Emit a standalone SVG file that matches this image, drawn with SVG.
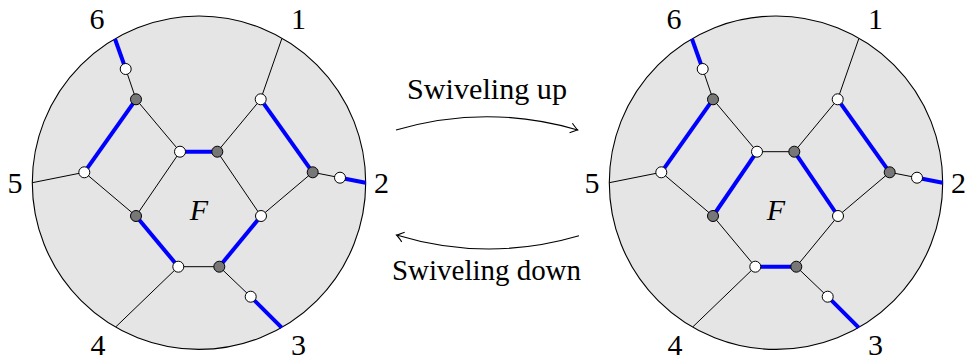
<svg xmlns="http://www.w3.org/2000/svg" width="967" height="361" viewBox="0 0 967 361">
<defs>
<style>
.disk{fill:#e5e5e5;stroke:#000;stroke-width:1.1}
.e{stroke:#000;stroke-width:1;fill:none}
.b{stroke:#0000ff;stroke-width:4;fill:none}
.w{fill:#fff;stroke:#000;stroke-width:1}
.g{fill:#777;stroke:#000;stroke-width:1}
.t{font-family:"Liberation Serif","DejaVu Serif",serif;font-size:29px;fill:#000}
.lab{font-family:"Liberation Serif","DejaVu Serif",serif;font-size:30px;fill:#000;text-anchor:middle}
.arr{stroke:#000;stroke-width:1.1;fill:none}
</style>
<marker id="to" markerUnits="userSpaceOnUse" markerWidth="14" markerHeight="14" viewBox="-10 -7 12 14" refX="0" refY="0" orient="auto">
<path d="M-7,-5 Q-2,-1 0,0 Q-2,1 -7,5" fill="none" stroke="#000" stroke-width="1.1"/>
</marker>
</defs>
<rect width="967" height="361" fill="#fff"/>

<g id="left">
<circle class="disk" cx="199" cy="182.7" r="166.7"/>
<g id="left-connectors">
<line class="b" x1="115" y1="39" x2="125.7" y2="69"/>
<line class="e" x1="125.7" y1="69" x2="136" y2="99.3"/>
<line class="b" x1="136" y1="99.3" x2="84.3" y2="172.3"/>
<line class="e" x1="136" y1="99.3" x2="180" y2="151.7"/>
<line class="b" x1="180" y1="151.7" x2="217.3" y2="151.7"/>
<line class="e" x1="217.3" y1="151.7" x2="260.7" y2="99.3"/>
<line class="e" x1="260.7" y1="99.3" x2="281.7" y2="39"/>
<line class="b" x1="260.7" y1="99.3" x2="312.7" y2="172.3"/>
<line class="e" x1="312.7" y1="172.3" x2="340" y2="177.7"/>
<line class="b" x1="340" y1="177.7" x2="365.7" y2="182.7"/>
<line class="e" x1="312.7" y1="172.3" x2="261" y2="216"/>
<line class="e" x1="217.3" y1="151.7" x2="261" y2="216"/>
<line class="b" x1="261" y1="216" x2="219.3" y2="266.7"/>
<line class="e" x1="180" y1="151.7" x2="136" y2="216"/>
<line class="e" x1="84.3" y1="172.3" x2="136" y2="216"/>
<line class="e" x1="84.3" y1="172.3" x2="32.3" y2="182.7"/>
<line class="b" x1="136" y1="216" x2="178.3" y2="266.7"/>
<line class="e" x1="178.3" y1="266.7" x2="219.3" y2="266.7"/>
<line class="e" x1="178.3" y1="266.7" x2="116" y2="326.7"/>
<line class="e" x1="219.3" y1="266.7" x2="250.7" y2="296.7"/>
<line class="b" x1="250.7" y1="296.7" x2="281.7" y2="327.7"/>
</g>
<g id="L-A"><circle class="w" cx="125.7" cy="69" r="5.5"/></g>
<g id="L-B"><circle class="g" cx="136" cy="99.3" r="5.5"/></g>
<g id="L-C"><circle class="w" cx="260.7" cy="99.3" r="5.5"/></g>
<g id="L-D"><circle class="w" cx="180" cy="151.7" r="5.5"/></g>
<g id="L-E"><circle class="g" cx="217.3" cy="151.7" r="5.5"/></g>
<g id="L-G"><circle class="w" cx="84.3" cy="172.3" r="5.5"/></g>
<g id="L-H"><circle class="g" cx="312.7" cy="172.3" r="5.5"/></g>
<g id="L-I"><circle class="w" cx="340" cy="177.7" r="5.5"/></g>
<g id="L-J"><circle class="g" cx="136" cy="216" r="5.5"/></g>
<g id="L-K"><circle class="w" cx="261" cy="216" r="5.5"/></g>
<g id="L-L"><circle class="w" cx="178.3" cy="266.7" r="5.5"/></g>
<g id="L-M"><circle class="g" cx="219.3" cy="266.7" r="5.5"/></g>
<g id="L-N"><circle class="w" cx="250.7" cy="296.7" r="5.5"/></g>
<text class="lab" x="199" y="220" font-style="italic">F</text>
<text class="lab" x="298.5" y="29">1</text>
<text class="lab" x="381.5" y="193">2</text>
<text class="lab" x="298.5" y="355">3</text>
<text class="lab" x="98" y="355">4</text>
<text class="lab" x="15" y="193">5</text>
<text class="lab" x="97" y="29">6</text>
</g>

<g id="right" transform="translate(577,0)">
<circle class="disk" cx="199" cy="182.7" r="166.7"/>
<g id="right-connectors">
<line class="b" x1="115" y1="39" x2="125.7" y2="69"/>
<line class="e" x1="125.7" y1="69" x2="136" y2="99.3"/>
<line class="b" x1="136" y1="99.3" x2="84.3" y2="172.3"/>
<line class="e" x1="136" y1="99.3" x2="180" y2="151.7"/>
<line class="e" x1="180" y1="151.7" x2="217.3" y2="151.7"/>
<line class="e" x1="217.3" y1="151.7" x2="260.7" y2="99.3"/>
<line class="e" x1="260.7" y1="99.3" x2="281.7" y2="39"/>
<line class="b" x1="260.7" y1="99.3" x2="312.7" y2="172.3"/>
<line class="e" x1="312.7" y1="172.3" x2="340" y2="177.7"/>
<line class="b" x1="340" y1="177.7" x2="365.7" y2="182.7"/>
<line class="e" x1="312.7" y1="172.3" x2="261" y2="216"/>
<line class="b" x1="217.3" y1="151.7" x2="261" y2="216"/>
<line class="e" x1="261" y1="216" x2="219.3" y2="266.7"/>
<line class="b" x1="180" y1="151.7" x2="136" y2="216"/>
<line class="e" x1="84.3" y1="172.3" x2="136" y2="216"/>
<line class="e" x1="84.3" y1="172.3" x2="32.3" y2="182.7"/>
<line class="e" x1="136" y1="216" x2="178.3" y2="266.7"/>
<line class="b" x1="178.3" y1="266.7" x2="219.3" y2="266.7"/>
<line class="e" x1="178.3" y1="266.7" x2="116" y2="326.7"/>
<line class="e" x1="219.3" y1="266.7" x2="250.7" y2="296.7"/>
<line class="b" x1="250.7" y1="296.7" x2="281.7" y2="327.7"/>
</g>
<g id="R-A"><circle class="w" cx="125.7" cy="69" r="5.5"/></g>
<g id="R-B"><circle class="g" cx="136" cy="99.3" r="5.5"/></g>
<g id="R-C"><circle class="w" cx="260.7" cy="99.3" r="5.5"/></g>
<g id="R-D"><circle class="w" cx="180" cy="151.7" r="5.5"/></g>
<g id="R-E"><circle class="g" cx="217.3" cy="151.7" r="5.5"/></g>
<g id="R-G"><circle class="w" cx="84.3" cy="172.3" r="5.5"/></g>
<g id="R-H"><circle class="g" cx="312.7" cy="172.3" r="5.5"/></g>
<g id="R-I"><circle class="w" cx="340" cy="177.7" r="5.5"/></g>
<g id="R-J"><circle class="g" cx="136" cy="216" r="5.5"/></g>
<g id="R-K"><circle class="w" cx="261" cy="216" r="5.5"/></g>
<g id="R-L"><circle class="w" cx="178.3" cy="266.7" r="5.5"/></g>
<g id="R-M"><circle class="g" cx="219.3" cy="266.7" r="5.5"/></g>
<g id="R-N"><circle class="w" cx="250.7" cy="296.7" r="5.5"/></g>
<text class="lab" x="199" y="220" font-style="italic">F</text>
<text class="lab" x="298.5" y="29">1</text>
<text class="lab" x="381.5" y="193">2</text>
<text class="lab" x="298.5" y="355">3</text>
<text class="lab" x="98" y="355">4</text>
<text class="lab" x="15" y="193">5</text>
<text class="lab" x="97" y="29">6</text>
</g>

<g id="arrows">
<path class="arr" d="M396,130 Q487,103.4 577.7,130" marker-end="url(#to)"/>
<path class="arr" d="M579,235.7 Q487,262.6 396.5,235" marker-end="url(#to)"/>
</g>
<text class="t" x="407" y="99" textLength="160" lengthAdjust="spacingAndGlyphs">Swiveling up</text>
<text class="t" x="392" y="280" textLength="189" lengthAdjust="spacingAndGlyphs">Swiveling down</text>
</svg>
